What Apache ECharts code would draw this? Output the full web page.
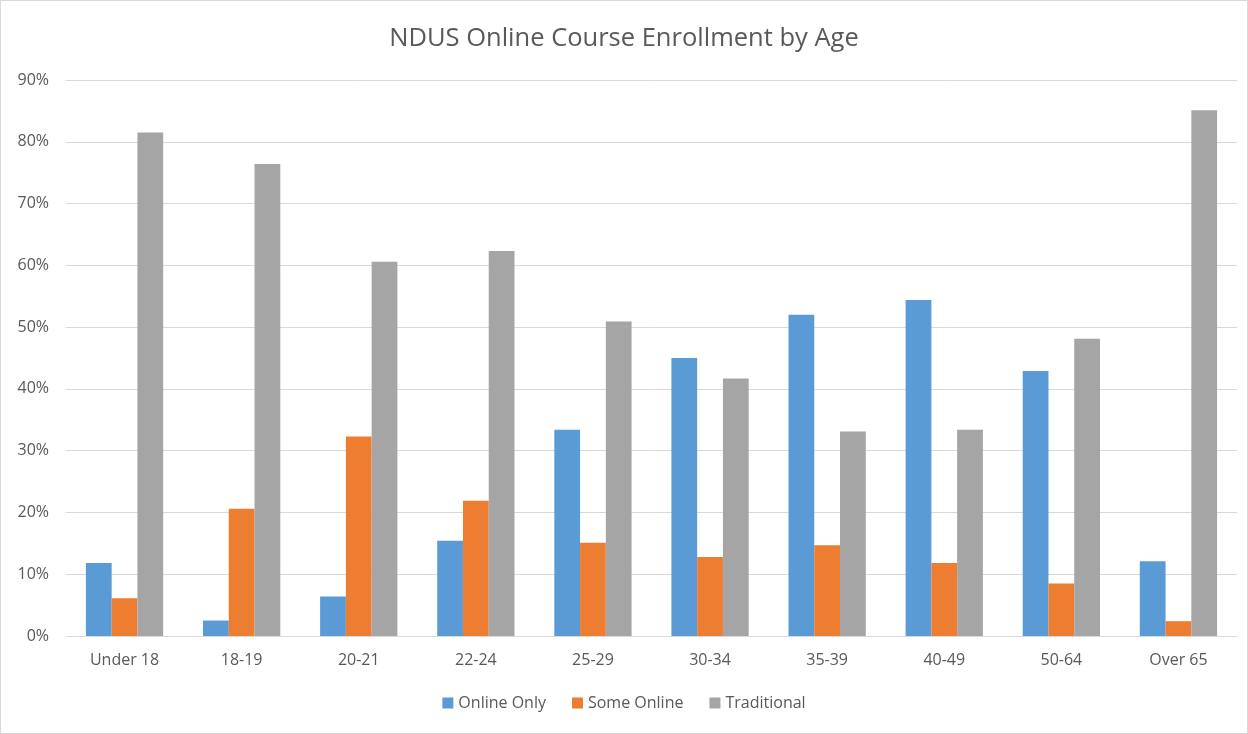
<!DOCTYPE html>
<html>
<head>
<meta charset="utf-8">
<title>NDUS Online Course Enrollment by Age</title>
<script src="https://cdn.jsdelivr.net/npm/echarts@6/dist/echarts.min.js"></script>
<style>
  html, body { margin: 0; padding: 0; background: #fff; }
  #chart { width: 1246px; height: 732px; border: 1px solid #d9d9d9; }
</style>
</head>
<body>
<div id="chart"></div>
<script>
  const ageGroups = ['Under 18', '18-19', '20-21', '22-24', '25-29', '30-34', '35-39', '40-49', '50-64', 'Over 65'];
  const onlineOnly = [11.8, 2.5, 6.4, 15.4, 33.4, 45.0, 52.0, 54.4, 42.9, 12.1];
  const someOnline = [6.1, 20.6, 32.3, 21.9, 15.1, 12.8, 14.7, 11.8, 8.5, 2.4];
  const traditional = [81.5, 76.4, 60.6, 62.3, 50.9, 41.7, 33.1, 33.4, 48.1, 85.1];

  const FONT = 'Open Sans';
  const TEXT = '#595959';

  const chart = echarts.init(document.getElementById('chart'));

  function bar(name, data, color) {
    return {
      name: name,
      type: 'bar',
      data: data,
      barGap: '0%',
      barCategoryGap: '34%',
      itemStyle: { color: color },
      emphasis: { disabled: true }
    };
  }

  chart.setOption({
    animation: false,
    textStyle: { fontFamily: FONT },
    title: {
      text: 'NDUS Online Course Enrollment by Age',
      left: 'center',
      top: 20,
      textStyle: { fontFamily: FONT, fontSize: 25.5, fontWeight: 'normal', color: TEXT }
    },
    legend: {
      bottom: 17,
      left: 'center',
      itemWidth: 11,
      itemHeight: 11,
      itemGap: 26,
      icon: 'rect',
      textStyle: { fontFamily: FONT, fontSize: 16, color: TEXT }
    },
    grid: { left: 65, right: 10, top: 79, bottom: 97, containLabel: false },
    xAxis: {
      type: 'category',
      data: ageGroups,
      axisLine: { lineStyle: { color: '#d9d9d9', width: 1 } },
      axisTick: { show: false },
      axisLabel: { color: TEXT, fontSize: 16, fontFamily: FONT, margin: 16 }
    },
    yAxis: {
      type: 'value',
      min: 0,
      max: 90,
      interval: 10,
      axisLine: { show: false },
      axisTick: { show: false },
      splitLine: { lineStyle: { color: '#d9d9d9', width: 1 } },
      axisLabel: { color: TEXT, fontSize: 16, fontFamily: FONT, margin: 17, formatter: '{value}%' }
    },
    series: [
      bar('Online Only', onlineOnly, '#5b9bd5'),
      bar('Some Online', someOnline, '#ed7d31'),
      bar('Traditional', traditional, '#a5a5a5')
    ]
  });

  window.addEventListener('resize', () => chart.resize());
</script>
</body>
</html>
